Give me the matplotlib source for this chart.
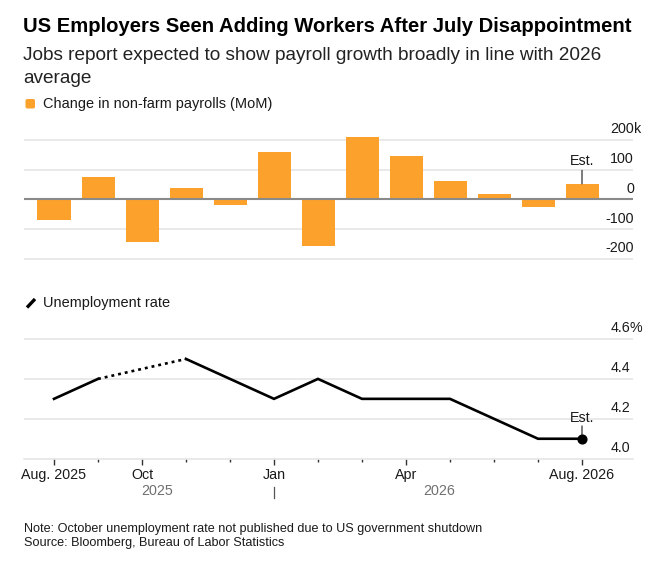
import numpy as np
import matplotlib
matplotlib.use("Agg")
import matplotlib.pyplot as plt
from matplotlib.transforms import ScaledTranslation
from matplotlib.patches import FancyBboxPatch
from matplotlib.lines import Line2D

# ---------------- data ----------------
months = ["Aug. 2025", "Sep", "Oct", "Nov", "Dec", "Jan", "Feb", "Mar",
          "Apr", "May", "Jun", "Jul", "Aug. 2026"]
payrolls = [-71, 74, -142, 39, -19, 158, -158, 211, 146, 61, 18, -26, 52]
unemployment = [4.3, 4.4, np.nan, 4.5, 4.4, 4.3, 4.4, 4.3, 4.3, 4.3, 4.2, 4.1, 4.1]
major_ticks = [0, 2, 5, 8, 12]
major_labels = ["Aug. 2025", "Oct", "Jan", "Apr", "Aug. 2026"]
pay_ticks = [200, 100, 0, -100, -200]
pay_labels = ["200", "100", "0", "-100", "-200"]
rate_ticks = [4.6, 4.4, 4.2, 4.0]
rate_labels = ["4.6", "4.4", "4.2", "4.0"]
years = ["2025", "2026"]
year_pos = [2.34, 8.75]
year_break = 5

title = "US Employers Seen Adding Workers After July Disappointment"
subtitle1 = "Jobs report expected to show payroll growth broadly in line with 2026"
subtitle2 = "average"
note = "Note: October unemployment rate not published due to US government shutdown"
source = "Source: Bloomberg, Bureau of Labor Statistics"

# ---------------- style ----------------
FONT = "Liberation Sans"
plt.rcParams["font.family"] = [FONT, "DejaVu Sans"]
ORANGE = "#FCA12C"
GRID = "#e3e3e3"
ZERO = "#8a8a8a"
TXT = "#1a1a1a"

W, H = 667, 564
fig = plt.figure(figsize=(W / 100, H / 100), dpi=100)

def fx(x):
    return x / W

def fy(y):
    return 1 - y / H

def px_off(dx, dy):
    return ScaledTranslation(dx / 100, dy / 100, fig.dpi_scale_trans)

x = np.arange(len(months))
x_left_px, x_right_px = 24, 633
x0_px, step_px = 54, 44
xlim = ((x_left_px - x0_px) / step_px, (x_right_px - x0_px) / step_px)

# ---------------- titles ----------------
fig.text(fx(23), fy(32.3), title, fontsize=14.6, fontweight="bold", color="#000000", va="baseline")
fig.text(fx(23), fy(60.2), subtitle1, fontsize=13.65, color="#222222", va="baseline")
fig.text(fx(23), fy(83.3), subtitle2, fontsize=13.65, color="#222222", va="baseline")

# legend 1
fig.patches.append(FancyBboxPatch((fx(25.5), fy(108.5)), 9.5 / W, 9.5 / H,
                                  boxstyle="round,pad=0,rounding_size=0.003",
                                  transform=fig.transFigure, facecolor=ORANGE, edgecolor="none"))
fig.text(fx(43), fy(108), "Change in non-farm payrolls (MoM)", fontsize=10.45, color=TXT, va="baseline")
# legend 2
fig.lines.append(Line2D([fx(27), fx(35)], [fy(307.5), fy(299)], transform=fig.transFigure,
                        color="#000000", lw=2.4, solid_capstyle="butt"))
fig.text(fx(43), fy(307), "Unemployment rate", fontsize=10.45, color=TXT, va="baseline")

# ---------------- bar chart ----------------
ppu1 = (259 - 140) / 400.0
zero1 = 199.3
ylim1 = (-210, 230)
top1 = zero1 - ylim1[1] * ppu1
bot1 = zero1 - ylim1[0] * ppu1
ax1 = fig.add_axes([fx(x_left_px), fy(bot1), (x_right_px - x_left_px) / W, (bot1 - top1) / H])
ax1.set_xlim(*xlim)
ax1.set_ylim(*ylim1)
for s in ax1.spines.values():
    s.set_visible(False)
ax1.set_xticks([])
ax1.set_yticks([t for t in pay_ticks if t != 0])
ax1.tick_params(axis="y", length=0, labelleft=False, labelright=False)
ax1.grid(axis="y", color=GRID, lw=1.1, zorder=0)
ax1.set_axisbelow(True)
ax1.bar(x, payrolls, width=0.75, color=ORANGE, zorder=2)
ax1.axhline(0, color=ZERO, lw=1.5, zorder=3)

tr1 = ax1.get_yaxis_transform() + px_off(0, 6.5)
xr1 = (634 - x_left_px) / (x_right_px - x_left_px)
for t, lab in zip(pay_ticks, pay_labels):
    ax1.text(xr1, t, lab, transform=tr1, ha="right", va="baseline", fontsize=10.3, color=TXT)
ax1.text(xr1, pay_ticks[0], "k", transform=tr1, ha="left", va="baseline", fontsize=10.3, color=TXT)

# Est. annotation (bars)
ax1.annotate("", xy=(x[-1], payrolls[-1]), xytext=(0, 13.5), textcoords="offset pixels",
             arrowprops=dict(arrowstyle="-", lw=0.9, color="#333333", shrinkA=0, shrinkB=0))
ax1.annotate("Est.", xy=(x[-1], payrolls[-1]), xytext=(0, 18.5), textcoords="offset pixels",
             ha="center", va="baseline", fontsize=10.3, color=TXT)

# ---------------- line chart ----------------
ppu2 = (458.7 - 339) / 0.6
base2 = 458.7
ylim2 = (4.0, 4.62)
top2 = base2 - (ylim2[1] - ylim2[0]) * ppu2
ax2 = fig.add_axes([fx(x_left_px), fy(base2), (x_right_px - x_left_px) / W, (base2 - top2) / H])
ax2.set_xlim(*xlim)
ax2.set_ylim(*ylim2)
for k in ["top", "right", "left"]:
    ax2.spines[k].set_visible(False)
ax2.spines["bottom"].set_color(GRID)
ax2.spines["bottom"].set_linewidth(1.1)
ax2.set_yticks([t for t in rate_ticks if t != 4.0])
ax2.tick_params(axis="y", length=0, labelleft=False, labelright=False)
ax2.grid(axis="y", color=GRID, lw=1.1, zorder=0)
ax2.set_axisbelow(True)

ax2.set_xticks(major_ticks)
ax2.set_xticklabels(major_labels, fontsize=10.3, color=TXT)
ax2.set_xticks([i for i in x if i not in major_ticks], minor=True)
ax2.tick_params(axis="x", which="major", length=4.4, width=1.0, color="#333333", pad=2.5)
ax2.tick_params(axis="x", which="minor", length=2.4, width=1.0, color="#333333")

u = np.array(unemployment, dtype=float)
ax2.plot(x, u, color="#000000", lw=1.9, solid_joinstyle="miter", zorder=3)
# dotted bridge across missing values
for i in np.where(np.isnan(u))[0]:
    a, b = i - 1, i + 1
    ax2.plot([x[a], x[b]], [u[a], u[b]], color="#000000", lw=1.9, linestyle=(0, (1.1, 1.5)), zorder=3)
ax2.plot([x[-1]], [u[-1]], "o", color="#000000", markersize=6.3, zorder=4)

ax2.annotate("", xy=(x[-1], u[-1]), xytext=(0, 12.8), textcoords="offset pixels",
             arrowprops=dict(arrowstyle="-", lw=0.9, color="#333333", shrinkA=0, shrinkB=0))
ax2.annotate("Est.", xy=(x[-1], u[-1]), xytext=(0, 16.8), textcoords="offset pixels",
             ha="center", va="baseline", fontsize=10.3, color=TXT)

tr2 = ax2.get_yaxis_transform() + px_off(0, 7)
xr2 = (630 - x_left_px) / (x_right_px - x_left_px)
for t, lab in zip(rate_ticks, rate_labels):
    ax2.text(xr2, t, lab, transform=tr2, ha="right", va="baseline", fontsize=10.3, color=TXT)
ax2.text(xr2, rate_ticks[0], "%", transform=tr2, ha="left", va="baseline", fontsize=10.3, color=TXT)

# year labels
try2 = ax2.get_xaxis_transform() + px_off(0, -36.3)
for pos, yr in zip(year_pos, years):
    ax2.text(pos, 0, yr, transform=try2, ha="center", va="baseline", fontsize=10.3, color="#707070")
trs = ax2.get_xaxis_transform()
hgt2 = base2 - top2
ax2.plot([year_break, year_break], [-(487 - base2) / hgt2, -(498 - base2) / hgt2],
         transform=trs, color="#555555", lw=0.9, clip_on=False)

# ---------------- notes ----------------
fig.text(fx(24), fy(532), note, fontsize=9.05, color=TXT, va="baseline")
fig.text(fx(24), fy(546), source, fontsize=9.05, color=TXT, va="baseline")

fig.savefig("out.png", dpi=100)
